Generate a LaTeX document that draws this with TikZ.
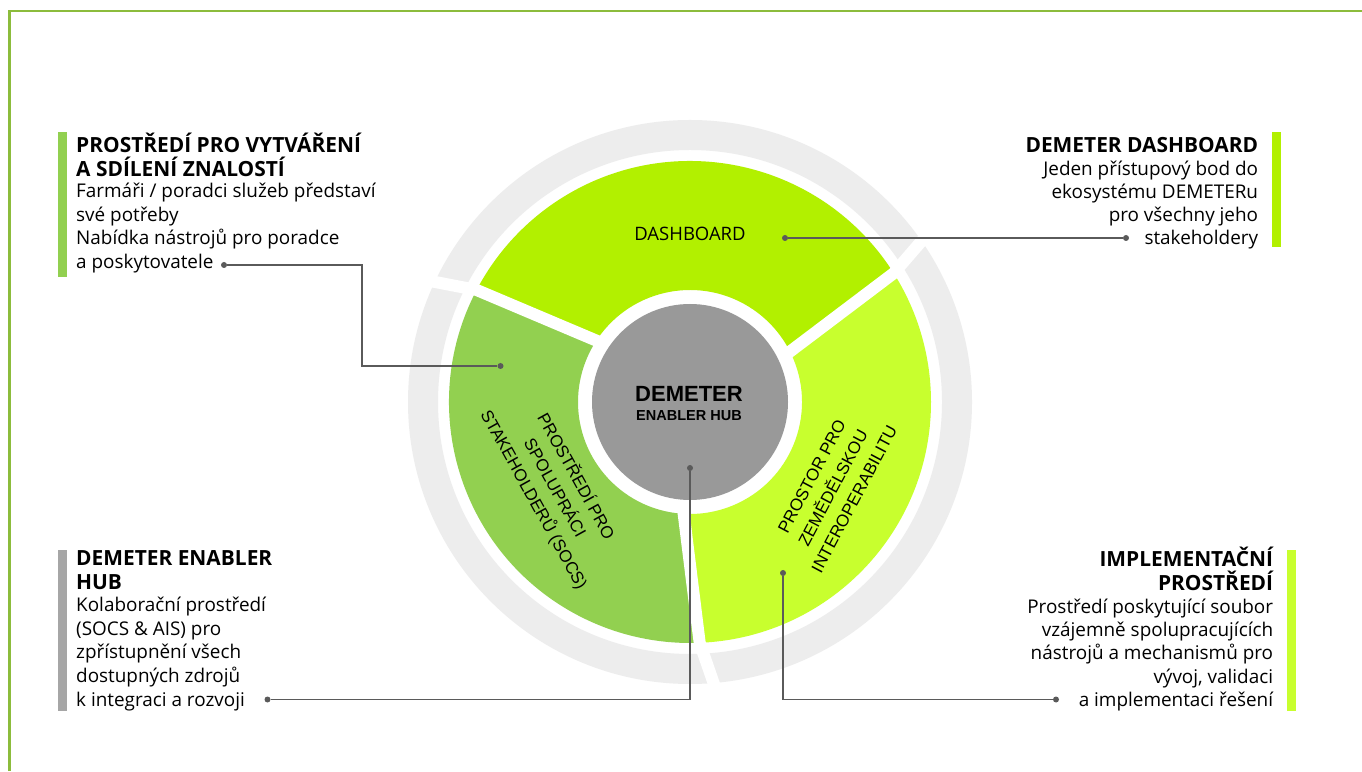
\documentclass[tikz,border=0pt]{standalone}
\usepackage{fontspec}
\setmainfont{Open Sans}
\newfontfamily\arialf{Liberation Sans}
\definecolor{framegreen}{RGB}{140,188,60}
\definecolor{dashc}{RGB}{178,240,0}
\definecolor{socsc}{RGB}{146,208,80}
\definecolor{interc}{RGB}{200,255,46}
\definecolor{ringgray}{RGB}{237,237,237}
\definecolor{hubgray}{RGB}{153,153,153}
\definecolor{bargray}{RGB}{166,166,166}
\definecolor{linegray}{RGB}{90,90,90}
\tikzset{
  ttl/.style={font=\fontsize{20.9}{23}\selectfont\bfseries, inner sep=0pt, text=black},
  bdy/.style={font=\fontsize{18.9}{23.5}\selectfont, inner sep=0pt, text=black},
  seglabel/.style={font=\arialf\fontsize{17}{24}\selectfont, align=center, inner sep=0pt, text=black},
  conn/.style={draw=linegray, line width=1.3pt},
  dotn/.style={circle, fill=linegray, inner sep=0pt, minimum size=6pt},
  gapline/.style={white, line width=12pt},
}
\begin{document}
\begin{tikzpicture}[x=1pt,y=1pt]
\useasboundingbox (0,0) rectangle (1362,771);
\fill[white] (0,0) rectangle (1362,771);
% frame
\draw[framegreen, line width=2.5pt] (9.5,0) -- (9.5,760) -- (1362,760);
% wheel
\begin{scope}[shift={(690,369)}]
  \fill[ringgray, even odd rule] (0,0) circle[radius=282] (0,0) circle[radius=252];
  \fill[dashc] (32.3:241) arc[start angle=32.3,end angle=152.3,radius=241] -- (145.5:112) arc[start angle=145.5,end angle=25.5,radius=112] -- cycle;
  \fill[socsc] (152.3:241) arc[start angle=152.3,end angle=272.3,radius=241] -- (265.5:112) arc[start angle=265.5,end angle=145.5,radius=112] -- cycle;
  \fill[interc] (272.3:241) arc[start angle=272.3,end angle=392.3,radius=241] -- (385.5:112) arc[start angle=385.5,end angle=265.5,radius=112] -- cycle;
  \foreach \a/\b in {25.5/32.3,145.5/152.3,265.5/272.3}
    \draw[gapline] (\a:100) -- (\b:241) -- ({\b+3}:292);
  \fill[hubgray] (0,0) circle[radius=98];
\end{scope}
% wheel labels
\node[font=\fontsize{18.5}{20}\selectfont, inner sep=0pt, anchor=base] (dash) at (690,530) {DASHBOARD};
\node[font=\arialf\bfseries\fontsize{22}{24}\selectfont, inner sep=0pt, anchor=base] (hub1) at (689,369.5) {DEMETER};
\node[font=\arialf\bfseries\fontsize{14.5}{16}\selectfont, inner sep=0pt, anchor=base] (hub2) at (689,350.3) {ENABLER HUB};
\node[seglabel, rotate=-61] (socs) at (555,283) {PROSTŘEDÍ PRO\\SPOLUPRÁCI\\STAKEHOLDERŮ (SOCS)};
\node[seglabel, rotate=62] (inter) at (833,283) {PROSTOR PRO\\ZEMĚDĚLSKOU\\INTEROPERABILITU};
% bars
\fill[socsc] (58,494) rectangle (66.5,639);
\fill[dashc] (1272.3,524.3) rectangle (1281,638.7);
\fill[bargray] (58,60) rectangle (66.5,221);
\fill[interc] (1287.3,60.3) rectangle (1296,221);
% top-left block
\node[ttl, anchor=base west] (tl1) at (76,618) {PROSTŘEDÍ PRO VYTVÁŘENÍ};
\node[ttl, anchor=base west] (tl2) at (76,594.5) {A SDÍLENÍ ZNALOSTÍ};
\node[bdy, anchor=base west] (tl3) at (76,573) {Farmáři / poradci služeb představí};
\node[bdy, anchor=base west] (tl4) at (76,549.5) {své potřeby};
\node[bdy, anchor=base west] (tl5) at (76,526) {Nabídka nástrojů pro poradce};
\node[bdy, anchor=base west] (tl6) at (76,502.5) {a poskytovatele};
% top-right block
\node[ttl, anchor=base east] (tr1) at (1258.3,618.5) {DEMETER DASHBOARD};
\node[bdy, anchor=base east] (tr2) at (1258.3,595) {Jeden přístupový bod do};
\node[bdy, anchor=base east] (tr3) at (1258.3,572) {ekosystému DEMETERu};
\node[bdy, anchor=base east] (tr4) at (1258.3,549) {pro všechny jeho};
\node[bdy, anchor=base east] (tr5) at (1258.3,526) {stakeholdery};
% bottom-left block
\node[ttl, anchor=base west] (bl1) at (76,205) {DEMETER ENABLER};
\node[ttl, anchor=base west] (bl2) at (76,181.5) {HUB};
\node[bdy, anchor=base west] (bl3) at (76,159) {Kolaborační prostředí};
\node[bdy, anchor=base west] (bl4) at (76,135.5) {(SOCS \& AIS) pro};
\node[bdy, anchor=base west] (bl5) at (76,112) {zpřístupnění všech};
\node[bdy, anchor=base west] (bl6) at (76,88.5) {dostupných zdrojů};
\node[bdy, anchor=base west] (bl7) at (76,65) {k integraci a rozvoji};
% bottom-right block
\node[ttl, anchor=base east] (br1) at (1273.3,204) {IMPLEMENTAČNÍ};
\node[ttl, anchor=base east] (br2) at (1273.3,180.5) {PROSTŘEDÍ};
\node[bdy, anchor=base east] (br3) at (1273.3,157.5) {Prostředí poskytující soubor};
\node[bdy, anchor=base east] (br4) at (1273.3,134.5) {vzájemně spolupracujících};
\node[bdy, anchor=base east] (br5) at (1273.3,111) {nástrojů a mechanismů pro};
\node[bdy, anchor=base east] (br6) at (1273.3,88) {vývoj, validaci};
\node[bdy, anchor=base east] (br7) at (1273.3,64.5) {a implementaci řešení};
% connectors
\node[dotn] (dTLt) at (224,506) {};
\node[dotn] (dTLw) at (500.5,405) {};
\coordinate (kTL) at (362,506);
\draw[conn] (dTLt) -- (kTL) |- (dTLw);
\node[dotn] (dTRw) at (785,533) {};
\node[dotn] (dTRt) at (1126,533) {};
\draw[conn] (dTRw) -- (dTRt);
\node[dotn] (dBLw) at (690,303) {};
\node[dotn] (dBLt) at (267.5,71.5) {};
\draw[conn] (dBLw) |- (dBLt);
\node[dotn] (dBRw) at (783,198) {};
\node[dotn] (dBRt) at (1056,71.5) {};
\draw[conn] (dBRw) |- (dBRt);
\end{tikzpicture}
\end{document}
